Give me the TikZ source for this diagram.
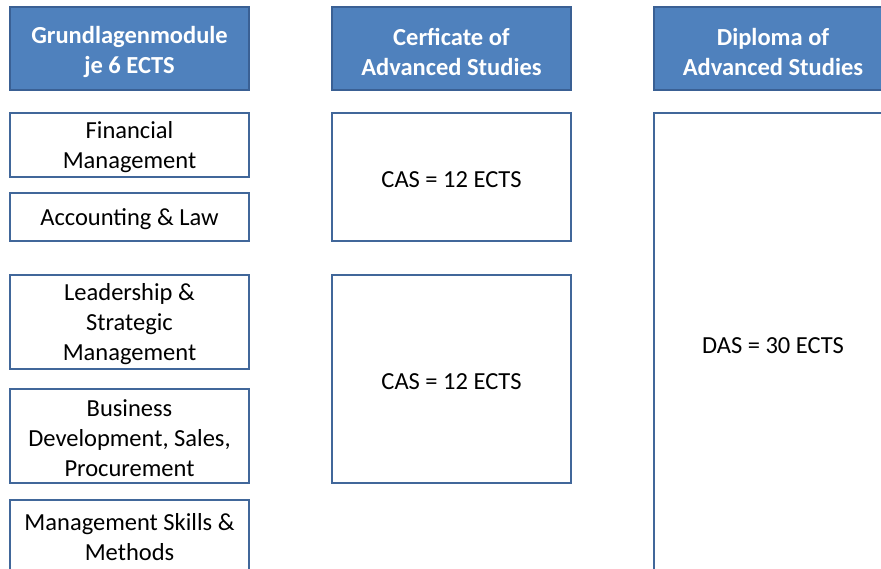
\documentclass[tikz,border=0pt]{standalone}
\usepackage{fontspec}
\setmainfont{Carlito}
\definecolor{hdrfill}{HTML}{4F81BD}
\definecolor{hdrline}{HTML}{3A6094}
\definecolor{boxline}{HTML}{41679A}
\begin{document}
\begin{tikzpicture}[x=1pt,y=-1pt,
  hdr/.style={draw=hdrline,line width=1.5pt,fill=hdrfill},
  hdrtext/.style={text=white,font=\fontsize{24.5}{30}\selectfont\bfseries,align=center,inner sep=0pt},
  modbox/.style={draw=boxline,line width=2pt,fill=white},
  modtext/.style={text=black,font=\fontsize{24.5}{30}\selectfont,align=center,inner sep=0pt}]
\useasboundingbox (0,0) rectangle (881,569);
\begin{scope}
\clip (0,0) rectangle (881,569);
% column headers
\draw[hdr] (10,7) rectangle (249,90);
\node[hdrtext] (h1) at (129.5,51.5) {Grundlagenmodule\\je 6 ECTS};
\draw[hdr] (332,7) rectangle (571,90);
\node[hdrtext] (h2) at (451.5,51.5) {Cerficate of\\Advanced Studies};
\draw[hdr] (654,7) rectangle (893,90);
\node[hdrtext] (h3) at (773,51.5) {Diploma of\\Advanced Studies};
% modules
\draw[modbox] (10,113) rectangle (249,177);
\node[modtext] (m1) at (129.5,147.5) {Financial\\Management};
\draw[modbox] (10,193) rectangle (249,241);
\node[modtext] (m2) at (129.5,219.5) {Accounting \& Law};
\draw[modbox] (10,275) rectangle (249,369);
\node[modtext] (m3) at (129.5,324.5) {Leadership \&\\Strategic\\Management};
\draw[modbox] (10,389) rectangle (249,483);
\node[modtext] (m4) at (129.5,438.5) {Business\\Development, Sales,\\Procurement};
\draw[modbox] (10,500) rectangle (249,599);
\node[modtext] (m5) at (129.5,537.5) {Management Skills \&\\Methods};
% certificates
\draw[modbox] (332,113) rectangle (571,241);
\node[modtext] (c1) at (451.5,179.5) {CAS = 12 ECTS};
\draw[modbox] (332,275) rectangle (571,483);
\node[modtext] (c2) at (451.5,381.5) {CAS = 12 ECTS};
% diploma
\draw[modbox] (654,113) rectangle (893,599);
\node[modtext] (d1) at (773,345.5) {DAS = 30 ECTS};
\end{scope}
\end{tikzpicture}
\end{document}
